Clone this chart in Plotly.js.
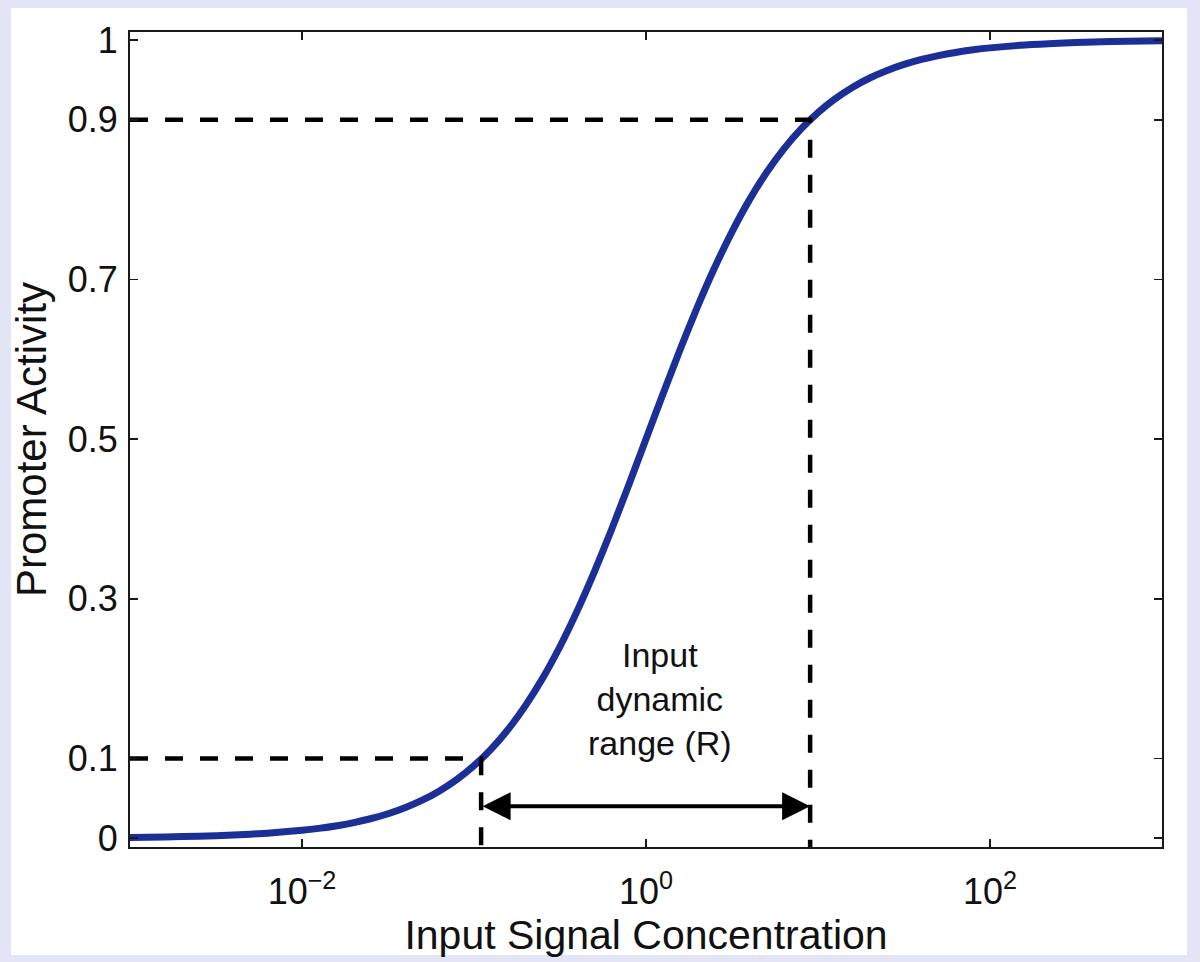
<!DOCTYPE html>
<html>
<head>
<meta charset="utf-8">
<script src="https://cdn.plot.ly/plotly-3.0.1.min.js"></script>
<style>
  html, body { margin: 0; padding: 0; background: #e3e4f5; }
  #chart { width: 1200px; height: 962px; }
</style>
</head>
<body>
<div id="chart"></div>
<script>
// promoter response
var signal = [0.001, 0.0016, 0.0025, 0.004, 0.0063,
              0.01, 0.0125, 0.016, 0.02, 0.025, 0.032, 0.04, 0.05, 0.063, 0.08,
              0.1, 0.125, 0.16, 0.2, 0.25, 0.32, 0.4, 0.5, 0.63, 0.8,
              1, 1.25, 1.6, 2, 2.5, 3.2, 4, 5, 6.3, 8,
              10, 12.5, 16, 20, 25, 32, 40, 50, 63, 80,
              100, 160, 250, 400, 630, 1000];
var activity = [0.001, 0.0016, 0.0025, 0.004, 0.0063,
                0.0099, 0.0123, 0.0157, 0.0196, 0.0244, 0.031, 0.0385, 0.0476, 0.0593, 0.0741,
                0.0909, 0.1111, 0.1379, 0.1667, 0.2, 0.2424, 0.2857, 0.3333, 0.3865, 0.4444,
                0.5, 0.5556, 0.6154, 0.6667, 0.7143, 0.7619, 0.8, 0.8333, 0.863, 0.8889,
                0.9091, 0.9259, 0.9412, 0.9524, 0.9615, 0.9697, 0.9756, 0.9804, 0.9844, 0.9877,
                0.9901, 0.9938, 0.996, 0.9975, 0.9984, 0.999];

// 10% / 90% thresholds and where the curve crosses them
var levels = [0.1, 0.9];
var levelX = [0.11, 9];

var yTicks = [0, 0.1, 0.3, 0.5, 0.7, 0.9, 1];
var xTicks = [0.01, 1, 100];
var xTickText = ['10<sup>\u22122</sup>', '10<sup>0</sup>', '10<sup>2</sup>'];

var xMin = 0.001;
var yBottom = -0.011;
var arrowY = 0.04;

var font = 'Liberation Sans, Arial, Helvetica, sans-serif';

var curve = {
  x: signal,
  y: activity,
  type: 'scatter',
  mode: 'lines',
  line: {color: '#1b2f96', width: 7, shape: 'spline', smoothing: 0.6},
  hoverinfo: 'skip'
};

var guides = levels.map(function (lv, i) {
  return {
    x: [xMin, levelX[i], levelX[i]],
    y: [lv, lv, yBottom],
    type: 'scatter',
    mode: 'lines',
    line: {color: '#000', width: 4.5, dash: '18px,17px'},
    hoverinfo: 'skip'
  };
});

var axisCommon = {
  showgrid: false,
  zeroline: false,
  showline: true,
  linecolor: '#1a1a1a',
  linewidth: 2,
  mirror: 'ticks',
  ticks: 'inside',
  ticklen: 8,
  tickwidth: 1.5,
  tickcolor: '#1a1a1a',
  tickfont: {family: font, size: 36, color: '#111'}
};

var layout = {
  width: 1200,
  height: 962,
  paper_bgcolor: '#e3e4f5',
  plot_bgcolor: '#fff',
  showlegend: false,
  margin: {l: 130, r: 38, t: 32, b: 115},
  xaxis: Object.assign({}, axisCommon, {
    type: 'log',
    range: [-3, 3],
    tickvals: xTicks,
    ticktext: xTickText,
    ticklabelstandoff: 12,
    title: {text: 'Input Signal Concentration', font: {family: font, size: 41, color: '#111'}, standoff: 6}
  }),
  yaxis: Object.assign({}, axisCommon, {
    range: [yBottom, 1.01],
    tickvals: yTicks,
    ticktext: yTicks.map(String),
    ticklabelstandoff: 3,
    title: {text: 'Promoter Activity', font: {family: font, size: 42, color: '#111'}, standoff: 8}
  }),
  shapes: [{
    type: 'rect', xref: 'paper', yref: 'paper', layer: 'below',
    x0: -0.1153, x1: 1.0242, y0: -0.1325, y1: 1.0294,
    fillcolor: '#fff', line: {width: 0}
  }],
  annotations: [{
    x: Math.log10(levelX[1]), y: arrowY,
    ax: Math.log10(levelX[0]), ay: arrowY,
    xref: 'x', yref: 'y', axref: 'x', ayref: 'y',
    text: '',
    showarrow: true,
    arrowhead: 2,
    startarrowhead: 2,
    arrowside: 'end+start',
    arrowsize: 1.4,
    startarrowsize: 1.4,
    arrowwidth: 4,
    arrowcolor: '#000',
    standoff: 0,
    startstandoff: 0
  }, {
    x: Math.log10(1.2), y: 0.175,
    xref: 'x', yref: 'y',
    text: 'Input<br>dynamic<br>range (R)',
    showarrow: false,
    font: {family: font, size: 34, color: '#111'}
  }]
};

Plotly.newPlot('chart', [curve].concat(guides), layout, {displayModeBar: false, staticPlot: true});
</script>
</body>
</html>
